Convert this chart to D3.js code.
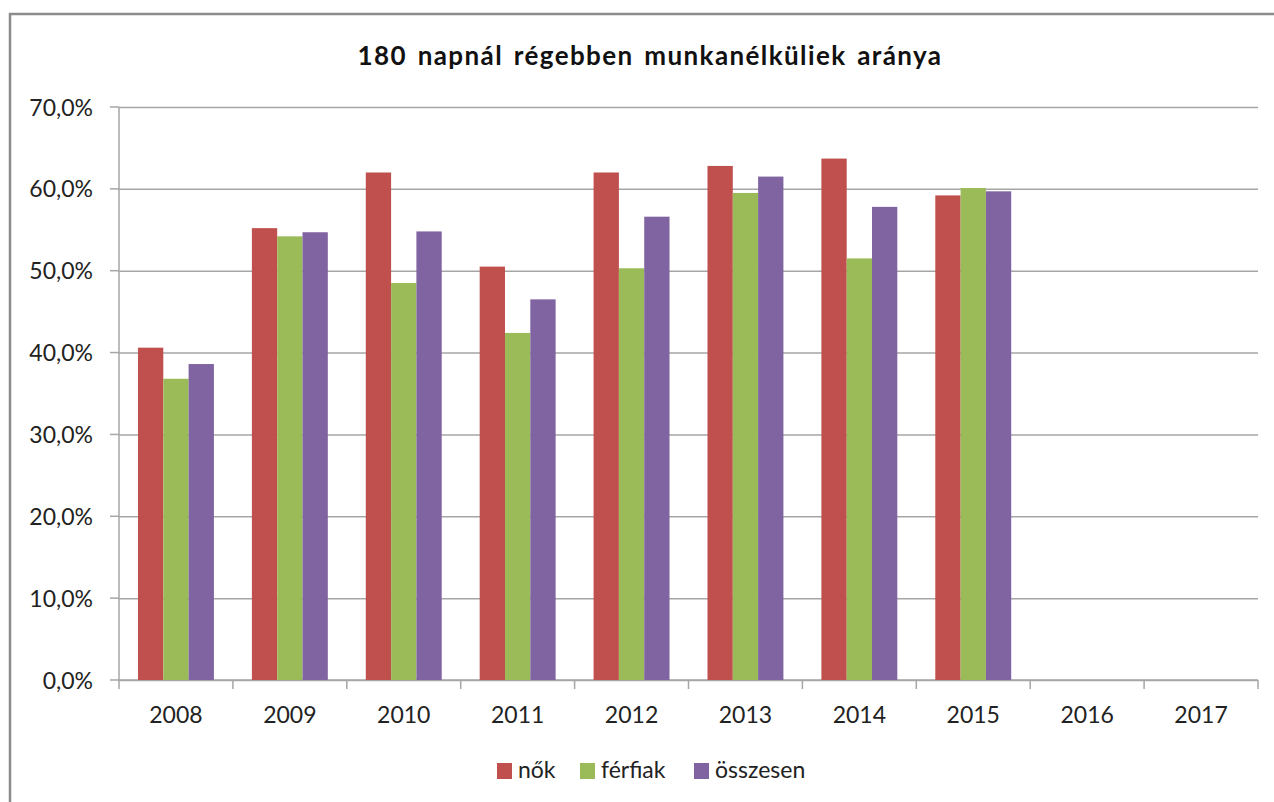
<!DOCTYPE html>
<html>
<head>
<meta charset="utf-8">
<script src="https://cdn.jsdelivr.net/npm/d3@7"></script>
<style>
  body { margin: 0; background: #fff; }
  svg { font-family: Lato, "Open Sans", sans-serif; }
</style>
</head>
<body>
<div id="chart"></div>
<script>
const years = ["2008", "2009", "2010", "2011", "2012", "2013", "2014", "2015", "2016", "2017"];
const seriesNames = ["nők", "férfiak", "összesen"];
const seriesColors = ["#C0504D", "#9BBB59", "#8064A2"];
const nok = [40.6, 55.2, 62.0, 50.5, 62.0, 62.8, 63.7, 59.2, null, null];
const ferfiak = [36.8, 54.2, 48.5, 42.4, 50.3, 59.5, 51.5, 60.1, null, null];
const osszesen = [38.6, 54.7, 54.8, 46.5, 56.6, 61.5, 57.8, 59.7, null, null];
const yTicks = [0, 10, 20, 30, 40, 50, 60, 70];

const W = 1274, H = 802;
const margin = { top: 107, right: 16, bottom: 122, left: 119 };
const width = W - margin.left - margin.right,
      height = H - margin.top - margin.bottom;

const svg = d3.select("#chart").append("svg")
    .attr("width", W)
    .attr("height", H);

// outer frame
svg.append("rect")
    .attr("x", 10).attr("y", 14)
    .attr("width", W + 20).attr("height", H + 20)
    .attr("fill", "none")
    .attr("stroke", "#8c8c8c")
    .attr("stroke-width", 2.5);

svg.append("text")
    .attr("x", 650).attr("y", 65)
    .attr("text-anchor", "middle")
    .attr("font-size", "26px")
    .attr("font-weight", "bold")
    .attr("letter-spacing", "1.4px")
    .attr("word-spacing", "3px")
    .attr("fill", "#111")
    .text("180 napnál régebben munkanélküliek aránya");

const g = svg.append("g")
    .attr("transform", "translate(" + margin.left + "," + margin.top + ")");

const x = d3.scaleBand().domain(years).range([0, width]).padding(0);
const xs = d3.scaleBand().domain(seriesNames)
    .range([x.bandwidth() / 6, x.bandwidth() * 5 / 6]);
const y = d3.scaleLinear().domain([0, 70]).range([height, 0]);

// gridlines + y axis
const yAxis = d3.axisLeft(y)
    .tickValues(yTicks)
    .tickSize(-width)
    .tickFormat(d => d3.format(".1f")(d).replace(".", ",") + "%");
g.append("g")
    .call(yAxis)
    .call(a => a.select(".domain").remove())
    .call(a => a.selectAll("line").attr("stroke", "#a6a6a6").attr("stroke-width", 1.5))
    .call(a => a.selectAll("text")
        .attr("x", -26)
        .attr("dy", "0.35em")
        .attr("font-size", "23px")
        .attr("font-family", "Lato, sans-serif")
        .attr("fill", "#222"));

// y ticks outside
g.append("g").selectAll("line").data(yTicks).join("line")
    .attr("x1", -9).attr("x2", 0)
    .attr("y1", d => y(d)).attr("y2", d => y(d))
    .attr("stroke", "#a6a6a6").attr("stroke-width", 1.5);
g.append("line")
    .attr("x1", 0).attr("x2", 0)
    .attr("y1", 0).attr("y2", height)
    .attr("stroke", "#a6a6a6").attr("stroke-width", 1.5);

// x axis
const xAxis = d3.axisBottom(x).tickSize(0).tickSizeOuter(0);
g.append("g")
    .attr("transform", "translate(0," + height + ")")
    .call(xAxis)
    .call(a => a.select(".domain").remove())
    .call(a => a.selectAll("text")
        .attr("y", 43)
        .attr("dy", 0)
        .attr("font-size", "23px")
        .attr("font-family", "Lato, sans-serif")
        .attr("fill", "#222"));
g.append("g").selectAll("line").data(years.concat(["end"])).join("line")
    .attr("x1", (d, i) => i * x.step()).attr("x2", (d, i) => i * x.step())
    .attr("y1", height).attr("y2", height + 9)
    .attr("stroke", "#a6a6a6").attr("stroke-width", 1.5);
g.append("line")
    .attr("x1", 0).attr("x2", width)
    .attr("y1", height).attr("y2", height)
    .attr("stroke", "#a6a6a6").attr("stroke-width", 1.5);

// bars
const values = [nok, ferfiak, osszesen];
const rows = [];
years.forEach((yr, i) => {
  seriesNames.forEach((s, j) => {
    if (values[j][i] != null) rows.push({ year: yr, series: s, value: values[j][i], color: seriesColors[j] });
  });
});
g.append("g").selectAll("rect").data(rows).join("rect")
    .attr("x", d => x(d.year) + xs(d.series))
    .attr("width", xs.bandwidth())
    .attr("y", d => y(d.value))
    .attr("height", d => height - y(d.value))
    .attr("fill", d => d.color);

// legend
const legendX = [497, 580, 694];
const legend = svg.append("g").selectAll("g").data(seriesNames).join("g")
    .attr("transform", (d, i) => "translate(" + legendX[i] + ",763)");
legend.append("rect")
    .attr("width", 15).attr("height", 16)
    .attr("fill", (d, i) => seriesColors[i]);
legend.append("text")
    .attr("x", 21).attr("y", 15)
    .attr("font-size", "23px")
    .attr("fill", "#222")
    .text(d => d);
</script>
</body>
</html>
